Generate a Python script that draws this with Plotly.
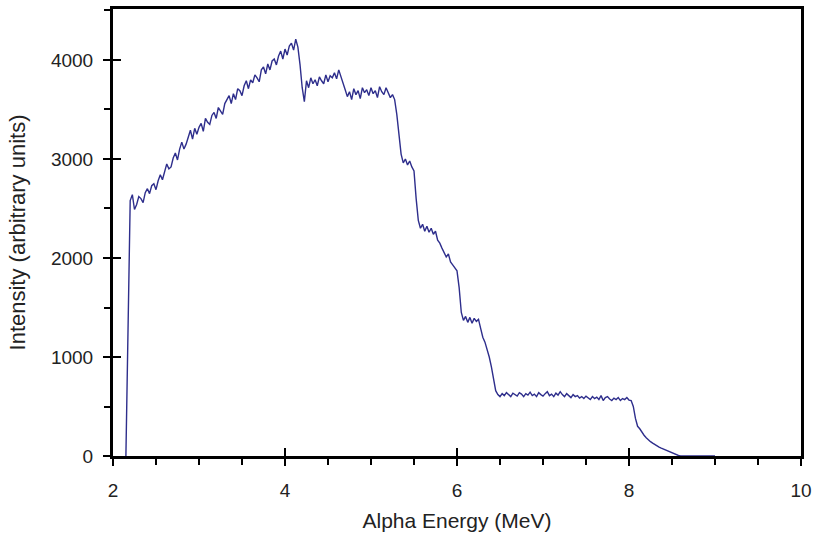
import plotly.graph_objects as go

# Alpha energy grid (MeV): two leading channels, then rows of 8 channels (0.025 MeV apart)
lead_energy = [2.15, 2.175]
row_start_energy = [2.2, 2.4, 2.6, 2.8, 3.0, 3.2, 3.4, 3.6, 3.8, 4.0, 4.2, 4.4, 4.6,
                    4.8, 5.0, 5.2, 5.4, 5.6, 5.8, 6.0, 6.2, 6.4, 6.6, 6.8, 7.0, 7.2,
                    7.4, 7.6, 7.8, 8.0, 8.2, 8.4, 8.6, 8.8]
channel_step = 0.025
tail_energy = [9.0]

# Intensity (arbitrary units)
lead_intensity = [0, 1250]
intensity_rows = [
    [2580, 2640, 2490, 2540, 2620, 2600, 2560, 2660],   # 2.2
    [2700, 2650, 2730, 2750, 2690, 2780, 2840, 2790],   # 2.4
    [2880, 2950, 2900, 2920, 3010, 3060, 2990, 3100],   # 2.6
    [3170, 3100, 3150, 3230, 3290, 3200, 3310, 3250],   # 2.8
    [3320, 3360, 3280, 3410, 3370, 3350, 3440, 3470],   # 3.0
    [3410, 3520, 3480, 3450, 3560, 3600, 3640, 3560],   # 3.2
    [3660, 3600, 3710, 3690, 3640, 3740, 3790, 3710],   # 3.4
    [3800, 3770, 3850, 3820, 3780, 3900, 3930, 3860],   # 3.6
    [3960, 3900, 3990, 4010, 3950, 4040, 4090, 4010],   # 3.8
    [4110, 4050, 4140, 4170, 4100, 4210, 4130, 3950],   # 4.0
    [3720, 3580, 3790, 3720, 3820, 3760, 3800, 3740],   # 4.2
    [3830, 3790, 3760, 3850, 3780, 3840, 3820, 3870],   # 4.4
    [3810, 3900, 3840, 3760, 3700, 3630, 3680, 3600],   # 4.6
    [3710, 3650, 3690, 3610, 3720, 3670, 3700, 3640],   # 4.8
    [3720, 3660, 3690, 3620, 3730, 3680, 3650, 3720],   # 5.0
    [3670, 3620, 3650, 3600, 3450, 3250, 3050, 2960],   # 5.2
    [3000, 2940, 2980, 2920, 2880, 2600, 2380, 2300],   # 5.4
    [2340, 2270, 2320, 2260, 2300, 2240, 2270, 2180],   # 5.6
    [2150, 2100, 2060, 2010, 2040, 1960, 1930, 1900],   # 5.8
    [1870, 1700, 1450, 1370, 1410, 1350, 1400, 1340],   # 6.0
    [1390, 1360, 1380, 1290, 1200, 1150, 1080, 1000],   # 6.2
    [900, 760, 660, 620, 600, 630, 610, 640],           # 6.4
    [615, 600, 635, 620, 605, 640, 625, 600],           # 6.6
    [630, 615, 645, 610, 625, 600, 640, 620],           # 6.8
    [605, 630, 650, 610, 625, 600, 635, 615],           # 7.0
    [650, 620, 600, 630, 610, 590, 620, 600],           # 7.2
    [610, 585, 600, 580, 605, 590, 570, 600],           # 7.4
    [580, 595, 570, 610, 560, 590, 600, 575],           # 7.6
    [560, 585, 570, 590, 560, 580, 570, 590],           # 7.8
    [565, 560, 500, 380, 300, 275, 240, 210],           # 8.0
    [185, 160, 145, 130, 115, 100, 90, 80],             # 8.2
    [70, 62, 55, 40, 30, 20, 12, 5],                    # 8.4
    [0, 0, 0, 0, 0, 0, 0, 0],                           # 8.6
    [0, 0, 0, 0, 0, 0, 0, 0],                           # 8.8
]
tail_intensity = [0]

x_tick_values = [2, 4, 6, 8, 10]
x_tick_labels = ["2", "4", "6", "8", "10"]
y_tick_values = [0, 1000, 2000, 3000, 4000]
y_tick_labels = ["0", "1000", "2000", "3000", "4000"]
x_range = [2, 10]
y_range = [0, 4515]

energy = list(lead_energy)
intensity = list(lead_intensity)
for start, row in zip(row_start_energy, intensity_rows):
    for i, v in enumerate(row):
        energy.append(round(start + i * channel_step, 4))
        intensity.append(v)
energy += tail_energy
intensity += tail_intensity

FONT = "Arial, Liberation Sans, sans-serif"
tickfont = dict(family=FONT, size=19, color="#222222")

W, H = 816, 534
ML, MR, MT, MB = 113, 15, 9, 78
INNER_TICK_PX = 8
x_units_per_px = (x_range[1] - x_range[0]) / (W - ML - MR)
y_units_per_px = (y_range[1] - y_range[0]) / (H - MT - MB)

# inward halves of the major ticks (the original's major ticks cross the axis line)
tick_x, tick_y = [], []
for v in x_tick_values[1:-1]:
    tick_x += [v, v, None]
    tick_y += [y_range[0], y_range[0] + INNER_TICK_PX * y_units_per_px, None]
for v in y_tick_values[1:]:
    tick_x += [x_range[0], x_range[0] + INNER_TICK_PX * x_units_per_px, None]
    tick_y += [v, v, None]

fig = go.Figure()
fig.add_trace(go.Scatter(
    x=tick_x, y=tick_y, mode="lines",
    line=dict(color="black", width=2),
    hoverinfo="skip", connectgaps=False,
))
fig.add_trace(go.Scatter(
    x=energy, y=intensity, mode="lines",
    line=dict(color="#2e2e8c", width=1.4),
    hoverinfo="skip",
))

fig.update_layout(
    width=W, height=H,
    margin=dict(l=ML, r=MR, t=MT, b=MB),
    plot_bgcolor="white", paper_bgcolor="white",
    showlegend=False,
    xaxis=dict(
        range=x_range, tickvals=x_tick_values, ticktext=x_tick_labels,
        ticks="outside", ticklen=7, tickwidth=2, tickcolor="black",
        showline=True, linewidth=3, linecolor="black", mirror=True,
        showgrid=False, zeroline=False, tickfont=tickfont,
        ticklabelstandoff=8, automargin=False,
        minor=dict(dtick=0.5, tick0=2, ticks="outside", ticklen=6, tickwidth=1.5,
                   tickcolor="black", showgrid=False),
        title=dict(text="Alpha Energy (MeV)",
                   font=dict(family=FONT, size=21, color="#222222"), standoff=14),
    ),
    yaxis=dict(
        range=y_range, tickvals=y_tick_values, ticktext=y_tick_labels,
        ticks="outside", ticklen=7, tickwidth=2, tickcolor="black",
        showline=True, linewidth=3, linecolor="black", mirror=True,
        showgrid=False, zeroline=False, tickfont=tickfont,
        ticklabelstandoff=6, automargin=False,
        minor=dict(dtick=500, tick0=0, ticks="outside", ticklen=6, tickwidth=1.5,
                   tickcolor="black", showgrid=False),
        title=dict(text="Intensity (arbitrary units)",
                   font=dict(family=FONT, size=22, color="#222222"), standoff=20),
    ),
)

fig.write_html("out.html")
